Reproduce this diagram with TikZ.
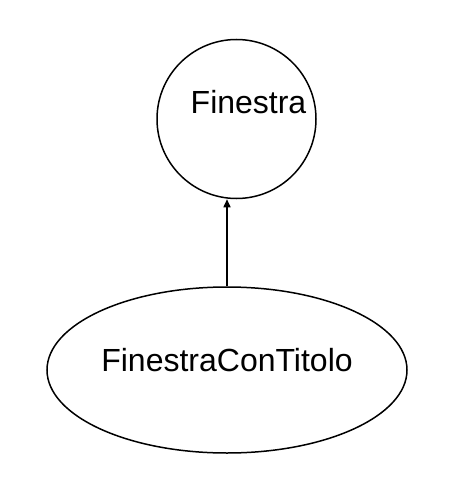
\documentclass[tikz,border=0pt]{standalone}
\usepackage{fontspec}
\setmainfont{Liberation Sans}
\usetikzlibrary{shapes.geometric,arrows.meta}
\begin{document}
\begin{tikzpicture}[x=1pt,y=-1pt]

      \useasboundingbox (0,0) rectangle (456,500);

      \begin{scope}[every node/.style={font=\fontsize{32}{38}\selectfont},
                    classe/.style={draw, line width=1.5pt, inner sep=0pt}]
        \node[classe, circle, minimum size=159pt,
              label={[xshift=12pt,yshift=17pt]center:Finestra}] (finestra) at (236.5,119) {};
        \node[classe, ellipse, minimum width=360pt, minimum height=166pt,
              label={[yshift=10pt]center:FinestraConTitolo}] (titolo) at (227,370) {};
      \end{scope}

      \begin{scope}[every edge/.style={draw, line width=1.5pt, -{Triangle[length=8pt,width=7pt]}}]
        \path (titolo.north) edge (titolo.north |- finestra.south);
      \end{scope}

    \end{tikzpicture}
\end{document}
